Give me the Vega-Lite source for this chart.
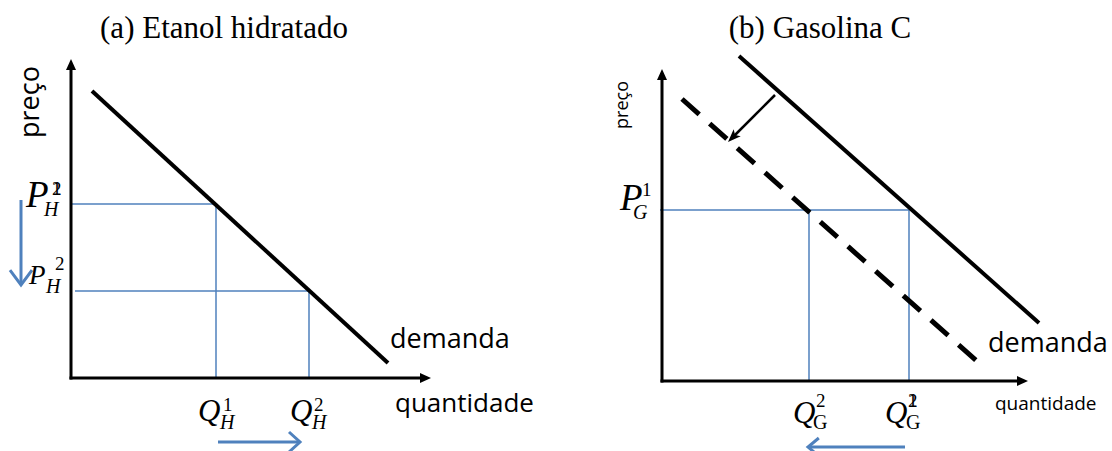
{
  "$schema": "https://vega.github.io/schema/vega-lite/v6.json",
  "width": 1112,
  "height": 451,
  "autosize": {"type": "none"},
  "padding": 0,
  "background": "white",
  "config": {"view": {"stroke": null}},
  "datasets": {
    "axes": [
      {"panel": "a", "x": 71, "y": 64, "x2": 71, "y2": 379.5},
      {"panel": "a", "x": 69.5, "y": 378, "x2": 426, "y2": 378},
      {"panel": "b", "x": 662, "y": 73, "x2": 662, "y2": 382.5},
      {"panel": "b", "x": 660.5, "y": 381, "x2": 1023, "y2": 381}
    ],
    "heads": [
      {"dir": "up", "x": 71, "y": 59},
      {"dir": "right", "x": 431, "y": 378},
      {"dir": "up", "x": 662, "y": 69},
      {"dir": "right", "x": 1028, "y": 381},
      {"dir": "down", "x": 21, "y": 285},
      {"dir": "right", "x": 300, "y": 442},
      {"dir": "left", "x": 808, "y": 447},
      {"dir": "downleft", "x": 728, "y": 142}
    ],
    "demand": [
      {"curve": "a", "x": 92, "y": 91, "x2": 388, "y2": 363},
      {"curve": "b1", "x": 739, "y": 56, "x2": 1039, "y2": 323}
    ],
    "demandShift": [
      {"curve": "b2", "x": 682, "y": 99, "x2": 978, "y2": 362}
    ],
    "shift": [
      {"x": 775, "y": 95, "x2": 732, "y2": 138}
    ],
    "guides": [
      {"x": 71, "y": 204, "x2": 216, "y2": 204},
      {"x": 216, "y": 204, "x2": 216, "y2": 378},
      {"x": 75, "y": 291, "x2": 309, "y2": 291},
      {"x": 309, "y": 291, "x2": 309, "y2": 378},
      {"x": 660, "y": 210, "x2": 909, "y2": 210},
      {"x": 809, "y": 210, "x2": 809, "y2": 381},
      {"x": 909, "y": 210, "x2": 909, "y2": 381}
    ],
    "blueShafts": [
      {"x": 21, "y": 200, "x2": 21, "y2": 284},
      {"x": 218, "y": 442, "x2": 299, "y2": 442},
      {"x": 905, "y": 447, "x2": 809, "y2": 447}
    ],
    "texts": [
      {"kind": "title", "text": "(a) Etanol hidratado", "x": 224, "y": 38},
      {"kind": "title", "text": "(b) Gasolina C", "x": 820, "y": 38},
      {"kind": "sans27", "text": "demanda", "x": 390, "y": 348},
      {"kind": "sans27", "text": "demanda", "x": 988, "y": 352},
      {"kind": "sans26", "text": "quantidade", "x": 395, "y": 412},
      {"kind": "sans19", "text": "quantidade", "x": 995, "y": 410},
      {"kind": "preco27", "text": "preço", "x": 39, "y": 102},
      {"kind": "preco18", "text": "preço", "x": 628, "y": 105},
      {"kind": "Pbig", "text": "P", "x": 26, "y": 207},
      {"kind": "Pbig", "text": "P", "x": 620, "y": 210},
      {"kind": "Psmall", "text": "P", "x": 29, "y": 284},
      {"kind": "Q", "text": "Q", "x": 198, "y": 421},
      {"kind": "Q", "text": "Q", "x": 290, "y": 421},
      {"kind": "Q", "text": "Q", "x": 793, "y": 423},
      {"kind": "Q", "text": "Q", "x": 885, "y": 423},
      {"kind": "subItalic", "text": "H", "x": 44, "y": 216},
      {"kind": "subItalic", "text": "H", "x": 46, "y": 293},
      {"kind": "subItalic", "text": "H", "x": 220, "y": 429},
      {"kind": "subItalic", "text": "H", "x": 312, "y": 429},
      {"kind": "subItalic", "text": "G", "x": 633, "y": 219},
      {"kind": "subUpright", "text": "G", "x": 813, "y": 429},
      {"kind": "subUpright", "text": "G", "x": 906, "y": 429},
      {"kind": "sup", "text": "1", "x": 52, "y": 195},
      {"kind": "sup", "text": "2", "x": 52, "y": 195},
      {"kind": "sup", "text": "2", "x": 55, "y": 270},
      {"kind": "sup", "text": "1", "x": 223, "y": 411},
      {"kind": "sup", "text": "2", "x": 314, "y": 411},
      {"kind": "sup", "text": "1", "x": 642, "y": 196},
      {"kind": "sup", "text": "2", "x": 816, "y": 407},
      {"kind": "sup", "text": "1", "x": 908, "y": 407},
      {"kind": "sup", "text": "2", "x": 908, "y": 407}
    ]
  },
  "encoding": {
    "x": {"field": "x", "type": "quantitative", "scale": {"domain": [0, 1112], "nice": false, "zero": false}, "axis": null},
    "y": {"field": "y", "type": "quantitative", "scale": {"domain": [0, 451], "reverse": true, "nice": false, "zero": false}, "axis": null}
  },
  "layer": [
    {
      "data": {"name": "guides"},
      "mark": {"type": "rule", "color": "#4f81bd", "strokeWidth": 1.5},
      "encoding": {"x2": {"field": "x2"}, "y2": {"field": "y2"}}
    },
    {
      "data": {"name": "axes"},
      "mark": {"type": "rule", "color": "black", "strokeWidth": 3},
      "encoding": {"x2": {"field": "x2"}, "y2": {"field": "y2"}}
    },
    {
      "data": {"name": "demand"},
      "mark": {"type": "rule", "color": "black", "strokeWidth": 4},
      "encoding": {"x2": {"field": "x2"}, "y2": {"field": "y2"}}
    },
    {
      "data": {"name": "demandShift"},
      "mark": {"type": "rule", "color": "black", "strokeWidth": 5, "strokeDash": [23, 14]},
      "encoding": {"x2": {"field": "x2"}, "y2": {"field": "y2"}}
    },
    {
      "data": {"name": "shift"},
      "mark": {"type": "rule", "color": "black", "strokeWidth": 2.5},
      "encoding": {"x2": {"field": "x2"}, "y2": {"field": "y2"}}
    },
    {
      "data": {"name": "blueShafts"},
      "mark": {"type": "rule", "color": "#4f81bd", "strokeWidth": 3},
      "encoding": {"x2": {"field": "x2"}, "y2": {"field": "y2"}}
    },
    {
      "data": {"name": "heads"},
      "transform": [{"filter": "datum.dir === 'up'"}],
      "mark": {"type": "point", "shape": "M0,0L1,2.2L-1,2.2Z", "size": 100, "filled": true, "color": "black", "opacity": 1, "angle": 0}
    },
    {
      "data": {"name": "heads"},
      "transform": [{"filter": "datum.dir === 'right' && datum.x > 400 && datum.y < 400"}],
      "mark": {"type": "point", "shape": "M0,0L1,2.2L-1,2.2Z", "size": 100, "filled": true, "color": "black", "opacity": 1, "angle": 90}
    },
    {
      "data": {"name": "heads"},
      "transform": [{"filter": "datum.dir === 'downleft'"}],
      "mark": {"type": "point", "shape": "M0,0L1,2.6L0,2L-1,2.6Z", "size": 100, "filled": true, "color": "black", "opacity": 1, "angle": 225}
    },
    {
      "data": {"name": "heads"},
      "transform": [{"filter": "datum.dir === 'down'"}],
      "mark": {"type": "point", "shape": "M-1,1.35L0,0L1,1.35", "size": 484, "filled": false, "color": "#4f81bd", "strokeWidth": 3, "opacity": 1, "angle": 180}
    },
    {
      "data": {"name": "heads"},
      "transform": [{"filter": "datum.dir === 'right' && datum.y > 400"}],
      "mark": {"type": "point", "shape": "M-1,1.1L0,0L1,1.1", "size": 400, "filled": false, "color": "#4f81bd", "strokeWidth": 3, "opacity": 1, "angle": 90}
    },
    {
      "data": {"name": "heads"},
      "transform": [{"filter": "datum.dir === 'left'"}],
      "mark": {"type": "point", "shape": "M-1,1.2L0,0L1,1.2", "size": 324, "filled": false, "color": "#4f81bd", "strokeWidth": 3, "opacity": 1, "angle": 270}
    },
    {
      "data": {"name": "texts"},
      "transform": [{"filter": "datum.kind === 'title'"}],
      "mark": {"type": "text", "font": "Liberation Serif", "fontSize": 31, "align": "center", "baseline": "alphabetic", "color": "black"},
      "encoding": {"text": {"field": "text"}}
    },
    {
      "data": {"name": "texts"},
      "transform": [{"filter": "datum.kind === 'sans27'"}],
      "mark": {"type": "text", "font": "Open Sans", "fontSize": 27, "align": "left", "baseline": "alphabetic", "color": "black"},
      "encoding": {"text": {"field": "text"}}
    },
    {
      "data": {"name": "texts"},
      "transform": [{"filter": "datum.kind === 'sans26'"}],
      "mark": {"type": "text", "font": "Open Sans", "fontSize": 26, "align": "left", "baseline": "alphabetic", "color": "black"},
      "encoding": {"text": {"field": "text"}}
    },
    {
      "data": {"name": "texts"},
      "transform": [{"filter": "datum.kind === 'sans19'"}],
      "mark": {"type": "text", "font": "Open Sans", "fontSize": 19, "align": "left", "baseline": "alphabetic", "color": "black"},
      "encoding": {"text": {"field": "text"}}
    },
    {
      "data": {"name": "texts"},
      "transform": [{"filter": "datum.kind === 'preco27'"}],
      "mark": {"type": "text", "font": "Open Sans", "fontSize": 27, "align": "center", "baseline": "alphabetic", "angle": 270, "color": "black"},
      "encoding": {"text": {"field": "text"}}
    },
    {
      "data": {"name": "texts"},
      "transform": [{"filter": "datum.kind === 'preco18'"}],
      "mark": {"type": "text", "font": "Open Sans", "fontSize": 18, "align": "center", "baseline": "alphabetic", "angle": 270, "color": "black"},
      "encoding": {"text": {"field": "text"}}
    },
    {
      "data": {"name": "texts"},
      "transform": [{"filter": "datum.kind === 'Pbig'"}],
      "mark": {"type": "text", "font": "Liberation Serif", "fontSize": 37, "fontStyle": "italic", "align": "left", "baseline": "alphabetic", "color": "black"},
      "encoding": {"text": {"field": "text"}}
    },
    {
      "data": {"name": "texts"},
      "transform": [{"filter": "datum.kind === 'Psmall'"}],
      "mark": {"type": "text", "font": "Liberation Serif", "fontSize": 27, "fontStyle": "italic", "align": "left", "baseline": "alphabetic", "color": "black"},
      "encoding": {"text": {"field": "text"}}
    },
    {
      "data": {"name": "texts"},
      "transform": [{"filter": "datum.kind === 'Q'"}],
      "mark": {"type": "text", "font": "Liberation Serif", "fontSize": 31, "fontStyle": "italic", "align": "left", "baseline": "alphabetic", "color": "black"},
      "encoding": {"text": {"field": "text"}}
    },
    {
      "data": {"name": "texts"},
      "transform": [{"filter": "datum.kind === 'subItalic'"}],
      "mark": {"type": "text", "font": "Liberation Serif", "fontSize": 20, "fontStyle": "italic", "align": "left", "baseline": "alphabetic", "color": "black"},
      "encoding": {"text": {"field": "text"}}
    },
    {
      "data": {"name": "texts"},
      "transform": [{"filter": "datum.kind === 'subUpright'"}],
      "mark": {"type": "text", "font": "Liberation Serif", "fontSize": 20, "align": "left", "baseline": "alphabetic", "color": "black"},
      "encoding": {"text": {"field": "text"}}
    },
    {
      "data": {"name": "texts"},
      "transform": [{"filter": "datum.kind === 'sup'"}],
      "mark": {"type": "text", "font": "Liberation Serif", "fontSize": 19, "align": "left", "baseline": "alphabetic", "color": "black"},
      "encoding": {"text": {"field": "text"}}
    }
  ]
}
